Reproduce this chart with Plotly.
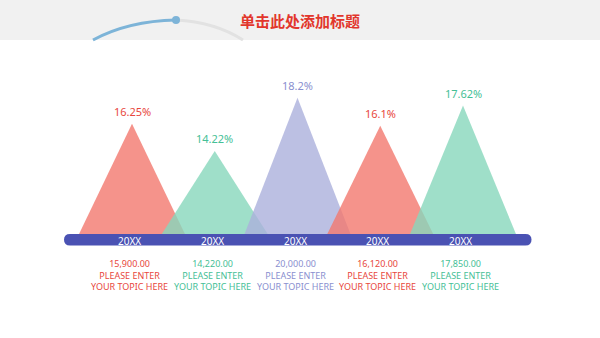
import plotly.graph_objects as go

# ---- data ----
categories = ["20XX", "20XX", "20XX", "20XX", "20XX"]
rates = [16.25, 14.22, 18.2, 16.1, 17.62]
rate_labels = ["16.25%", "14.22%", "18.2%", "16.1%", "17.62%"]
amounts = ["15,900.00", "14,220.00", "20,000.00", "16,120.00", "17,850.00"]
topic_line1 = ["PLEASE ENTER"] * 5
topic_line2 = ["YOUR TOPIC HERE"] * 5
title_text = "单击此处添加标题"

# ---- styles ----
fills = ["rgba(242,120,110,0.8)", "rgba(135,215,188,0.8)", "rgba(171,176,220,0.8)",
         "rgba(242,120,110,0.8)", "rgba(135,215,188,0.8)"]
text_colors = ["#e8473d", "#45c096", "#8a8fcf", "#e8473d", "#45c096"]
base = 8.0
half_w = 0.64
font = "Noto Sans, Open Sans, sans-serif"

fig = go.Figure()

for i, v in enumerate(rates):
    fig.add_trace(go.Scatter(
        x=[i - half_w, i, i + half_w, i - half_w],
        y=[base, v, base, base],
        mode="lines", fill="toself", fillcolor=fills[i],
        line=dict(width=0, color=fills[i]), hoverinfo="skip", showlegend=False))

annotations = []
for i, v in enumerate(rates):
    annotations.append(dict(x=i, y=v, xref="x", yref="y", text=rate_labels[i],
                            showarrow=False, yanchor="bottom", yshift=3,
                            font=dict(family=font, size=11, color=text_colors[i])))
    annotations.append(dict(x=i, y=base, xref="x", yref="y", text=categories[i],
                            showarrow=False, yanchor="middle", yshift=-6.5, xshift=-2.5,
                            font=dict(family=font, size=10, color="white")))
    block = "<br>".join([amounts[i], topic_line1[i], topic_line2[i]])
    annotations.append(dict(x=i, y=base, xref="x", yref="y", text=block,
                            showarrow=False, yanchor="middle", yshift=-40.5, xshift=-2.5,
                            font=dict(family=font, size=9, color=text_colors[i])))

annotations.append(dict(x=0.5, y=1 - 21 / 338, xref="paper", yref="paper", text="<b>" + title_text + "</b>",
                        showarrow=False, yanchor="middle",
                        font=dict(family="Noto Sans CJK SC, sans-serif", size=15, color="#e2362c")))

# axis bar (rounded) in data coords
px_x = 82.75
px_y = 13.35
rx = 6 / px_x
x0 = (64 - 132) / px_x + rx
x1 = (531.5 - 132) / px_x - rx
yt, yb = base, base - 11.5 / px_y
ym = (yt + yb) / 2
bar_path = (f"M {x0},{yt} L {x1},{yt} Q {x1+rx},{yt} {x1+rx},{ym} Q {x1+rx},{yb} {x1},{yb} "
            f"L {x0},{yb} Q {x0-rx},{yb} {x0-rx},{ym} Q {x0-rx},{yt} {x0},{yt} Z")

def py(p):
    return 1 - p / 338

def pxp(p):
    return p / 600

shapes = [
    dict(type="rect", xref="paper", yref="paper", x0=0, x1=1, y0=py(40), y1=1,
         fillcolor="#f1f1f1", line=dict(width=0), layer="below"),
    dict(type="path", xref="paper", yref="paper",
         path=f"M {pxp(176)},{py(20)} Q {pxp(215)},{py(22)} {pxp(243)},{py(40)}",
         line=dict(color="#e2e2e2", width=3), layer="below"),
    dict(type="path", xref="paper", yref="paper",
         path=f"M {pxp(93)},{py(40)} Q {pxp(128)},{py(21)} {pxp(176)},{py(20)}",
         line=dict(color="#7db4d8", width=3), layer="below"),
    dict(type="circle", xref="paper", yref="paper",
         x0=pxp(172), x1=pxp(180), y0=py(24), y1=py(16),
         fillcolor="#7db4d8", line=dict(width=0), layer="below"),
    dict(type="path", xref="x", yref="y", path=bar_path,
         fillcolor="#4a52b3", line=dict(width=0), layer="above"),
]

x_lo = -132 / px_x
x_hi = (600 - 132) / px_x
y_hi = base + 234 / px_y
y_lo = base - (338 - 234) / px_y

fig.update_layout(
    width=600, height=338, margin=dict(l=0, r=0, t=0, b=0),
    paper_bgcolor="white", plot_bgcolor="rgba(0,0,0,0)",
    xaxis=dict(range=[x_lo, x_hi], visible=False, fixedrange=True),
    yaxis=dict(range=[y_lo, y_hi], visible=False, fixedrange=True),
    annotations=annotations, shapes=shapes, showlegend=False,
)

fig.write_html("out.html")
